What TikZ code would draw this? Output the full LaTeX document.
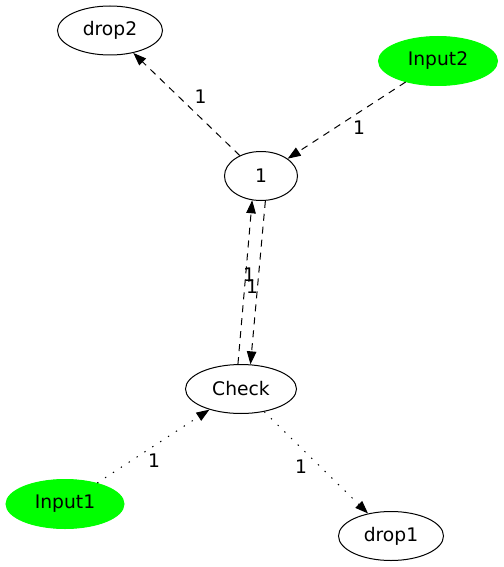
\documentclass[tikz,border=0pt]{standalone}
\usepackage{fontspec}
\setmainfont{DejaVu Sans}
\usetikzlibrary{arrows.meta,shapes.geometric}
\definecolor{lime}{RGB}{0,255,0}
\tikzset{
  state/.style={ellipse, draw=black, line width=1pt, inner sep=0pt,
    minimum width=#1, minimum height=49pt, font=\fontsize{18.7}{22}\selectfont},
  state/.default=106pt,
  source/.style={state=#1, draw=lime, fill=lime},
  lbl/.style={font=\fontsize{18.7}{22}\selectfont, inner sep=0pt},
  edge/.style={line width=1pt, -{Triangle[length=13pt,width=9.5pt]}},
  dashedge/.style={edge, dash pattern=on 7pt off 6pt},
  dotedge/.style={edge, dash pattern=on 1.4pt off 8pt},
}
\begin{document}
\begin{tikzpicture}[x=1pt,y=-1pt]
\useasboundingbox (0,0) rectangle (503,567);
% nodes
\node[state=105pt]  (drop2)  at (110,30.5) {drop2};
\node[source=119pt] (input2) at (438,61)   {Input2};
\node[state=73pt]   (one)    at (261,176)  {1};
\node[state=111pt]  (check)  at (241,389)  {Check};
\node[source=118pt] (input1) at (65,504)   {Input1};
\node[state=105pt]  (drop1)  at (391,536)  {drop1};
% connectors
\draw[dashedge] (one) -- (drop2);
\draw[dashedge] (input2) -- (one);
\draw[dashedge] (check.97) -- (one.250);
\draw[dashedge] (one.-80) -- (check.69);
\draw[dotedge] (input1) -- (check);
\draw[dotedge] (check) -- (drop1);
% connector labels
\node[lbl] (l1) at (200.5,97)  {1};
\node[lbl] (l2) at (359,127.5) {1};
\node[lbl] (l3) at (249,275)   {1};
\node[lbl] (l4) at (252,287)   {1};
\node[lbl] (l5) at (154,461)   {1};
\node[lbl] (l6) at (301,467)   {1};
\end{tikzpicture}
\end{document}
